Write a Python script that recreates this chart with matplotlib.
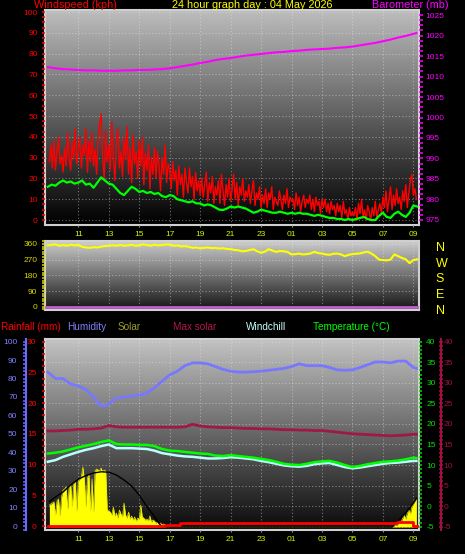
import numpy as np
import matplotlib
matplotlib.use('Agg')
import matplotlib.pyplot as plt
from matplotlib.ticker import MultipleLocator

plt.rcParams['font.family'] = ['Liberation Sans', 'DejaVu Sans']
plt.rcParams['axes.unicode_minus'] = False

W, H = 465, 554

# hours since 09:00 of the previous day
hour_ticks = [2, 4, 6, 8, 10, 12, 14, 16, 18, 20, 22, 24]
hour_labels = ['11', '13', '15', '17', '19', '21', '23', '01', '03', '05', '07', '09']

t_fine = np.round(np.arange(1, 243) * 0.1, 1)      # 0.1 .. 24.2
t_quarter = np.arange(98) * 0.25                   # 0 .. 24.25
t_half = list(np.arange(0, 24.5, 0.5)) + [24.2]

# windspeed gusts (kph), one row per hour
gust = [28, 36, 25, 38, 24, 33, 40, 27, 31, 23,
        35, 26, 42, 30, 24, 38, 29, 44, 27, 33,
        40, 25, 36, 31, 44, 23, 38, 28, 42, 26,
        34, 22, 39, 46, 51, 30, 20, 43, 28, 36,
        24, 47, 30, 19, 38, 44, 25, 33, 21, 40,
        29, 45, 22, 35, 18, 41, 27, 33, 20, 38,
        26, 40, 17, 32, 24, 36, 15, 30, 22, 35,
        20, 33, 26, 14, 30, 22, 36, 18, 27, 24,
        15, 28, 19, 24, 12, 26, 17, 22, 11, 25,
        18, 13, 25, 16, 21, 10, 23, 14, 19, 12,
        20, 11, 17, 23, 9, 18, 13, 21, 8, 16,
        12, 19, 8, 22, 14, 7, 17, 11, 20, 9,
        15, 22, 10, 18, 7, 16, 12, 20, 9, 14,
        11, 17, 8, 14, 19, 7, 13, 10, 16, 6,
        12, 8, 15, 6, 13, 10, 16, 5, 11, 9,
        7, 14, 10, 5, 12, 8, 15, 6, 11, 9,
        10, 5, 13, 7, 11, 4, 9, 12, 6, 10,
        8, 12, 5, 10, 4, 11, 7, 9, 3, 10,
        6, 10, 4, 8, 3, 9, 5, 7, 2, 8,
        4, 7, 1, 9, 3, 5, 0, 6, 2, 4,
        2, 6, 0, 8, 3, 10, 1, 5, 0, 7,
        4, 0, 6, 2, 9, 1, 5, 8, 3, 11,
        6, 14, 4, 10, 16, 5, 12, 7, 15, 8,
        11, 5, 14, 9, 17, 6, 13, 19, 22, 12,
        15, 10]

# average windspeed (kph), 4 per hour
wind_avg = [16, 17, 16.5, 18, 19, 18, 18.5, 17.5, 18, 19, 17, 17.5,
            15.5, 18, 20.5, 19, 17.5, 17, 15, 13, 12, 14, 16, 15,
            13.5, 14, 13, 13.5, 12.5, 13, 11.5, 11, 12, 11.5, 10, 9.5,
            9, 8.5, 9, 8, 8, 7, 7.5, 7, 6, 5, 4.8, 5.5,
            6.5, 6, 6.5, 6, 5.5, 4.5, 3.5, 4, 5, 4.5, 4, 3.5,
            3.5, 4, 3.5, 3, 3.5, 3, 3.5, 3, 3, 2.5, 2, 2.5,
            2, 1.5, 1, 1, 0.5, 0.5, 0, 0.5, 0, 0.5, 1, 1.5,
            0.5, 0, 0, 2, 3.5, 1.5, 1, 3, 4, 2.5, 1.5, 3.5,
            7, 6.5]

barometer = [1012.3, 1012.0, 1011.8, 1011.7, 1011.6, 1011.5, 1011.5, 1011.4, 1011.4, 1011.4,
             1011.5, 1011.5, 1011.6, 1011.6, 1011.7, 1011.8, 1012.0, 1012.3, 1012.6, 1012.9,
             1013.3, 1013.6, 1014.0, 1014.3, 1014.5, 1014.8, 1015.1, 1015.3, 1015.5, 1015.7,
             1015.9, 1016.0, 1016.2, 1016.3, 1016.5, 1016.6, 1016.7, 1016.8, 1017.0, 1017.1,
             1017.3, 1017.6, 1017.9, 1018.2, 1018.6, 1019.0, 1019.5, 1019.9, 1020.4, 1020.6]

# wind direction (degrees), 4 per hour
wind_dir = [352, 356, 358, 350, 354, 350, 356, 352, 354, 344, 340, 338,
            342, 340, 345, 348, 350, 352, 350, 354, 350, 352, 356, 350,
            352, 358, 354, 350, 356, 352, 354, 358, 356, 350, 352, 346,
            348, 344, 338, 340, 335, 338, 340, 336, 338, 334, 336, 332,
            330, 326, 324, 318, 320, 325, 330, 318, 310, 316, 330, 322,
            315, 320, 318, 314, 300, 302, 305, 300, 302, 306, 315, 308,
            305, 300, 298, 304, 305, 300, 290, 298, 302, 304, 306, 312,
            316, 305, 290, 270, 268, 266, 270, 300, 290, 280, 272, 250,
            268, 272]
dir_base = 0

humidity = [83.5, 80, 80, 77, 76, 74, 70, 65, 66, 69.5,
            70, 70.5, 71, 72, 75, 78.5, 82, 84, 87, 88.5,
            88.5, 88, 86.5, 85, 84, 83.5, 83.5, 83.7, 84, 84.5,
            85, 85.5, 86.5, 88, 87, 87, 87, 86, 84.7, 84.5,
            84.7, 86, 87.5, 89, 89, 88.5, 89.5, 89.5, 86, 85.5]

max_line = [18.3, 18.3, 18.4, 18.5, 18.7, 18.7, 18.8, 19.0, 19.6, 19.3,
            19.2, 19.2, 19.2, 19.2, 19.2, 19.2, 19.2, 19.2, 19.3, 19.9,
            19.5, 19.3, 19.2, 19.1, 19.1, 19.0, 18.9, 18.9, 18.8, 18.8,
            18.7, 18.6, 18.6, 18.5, 18.5, 18.4, 18.4, 18.2, 18.0, 17.8,
            17.6, 17.5, 17.4, 17.3, 17.2, 17.1, 17.2, 17.3, 17.5, 17.5]

temperature = [12.8, 13.0, 13.3, 13.8, 14.3, 14.7, 15.1, 15.6, 16.0, 15.1,
               15.0, 15.0, 14.9, 14.9, 14.6, 13.9, 13.5, 13.4, 13.2, 13.0,
               12.8, 12.7, 12.3, 12.2, 12.4, 12.2, 12.0, 11.8, 11.5, 11.2,
               10.8, 10.3, 10.1, 10.0, 10.3, 10.7, 10.9, 11.0, 10.6, 10.0,
               9.5, 9.8, 10.2, 10.5, 10.8, 10.9, 11.1, 11.4, 11.8, 11.7]

windchill = [10.8, 11.2, 12.0, 12.6, 13.2, 13.7, 14.1, 14.6, 15.0, 14.1,
             14.1, 14.1, 14.0, 13.9, 13.5, 12.9, 12.6, 12.3, 12.1, 12.0,
             11.8, 11.6, 11.6, 11.7, 11.9, 11.8, 11.6, 11.4, 11.0, 10.7,
             10.3, 9.9, 9.7, 9.6, 9.8, 10.2, 10.4, 10.5, 10.0, 9.5,
             9.2, 9.4, 9.7, 10.0, 10.3, 10.5, 10.6, 10.8, 11.0, 11.0]

# solar radiation (W/m2) on the 0.1 h grid
solar = ([220, 230, 240, 250, 120, 260, 280, 110, 300, 370,
          380, 400, 180, 410, 420, 200, 440, 450, 160, 460,
          480, 500, 600, 470, 200, 490, 520, 160, 480, 150,
          560, 580, 570, 560, 590, 550, 570, 560, 170, 160,
          150, 120, 200, 110, 140, 90, 170, 130, 100, 240,
          120, 90, 150, 80, 110, 70, 100, 60, 90, 80,
          220, 100, 90, 70, 80, 60, 110, 50, 70, 60,
          40, 50, 30, 40, 20, 30, 20, 10, 5, 0]
         + [0] * 145
         + [0, 10, 20, 15, 40, 60, 50, 90, 120, 80, 140, 170, 130, 200, 230, 260, 280])

t_maxsolar = [0.1, 0.5, 1.0, 1.5, 2.0, 2.5, 3.0, 3.5, 4.0, 4.5, 5.0, 5.5, 6.0, 6.5, 7.0, 7.2, 7.5,
              22.6, 23.0, 23.5, 24.0, 24.2]
max_solar = [253, 300, 350, 420, 478, 515, 540, 552, 548, 520, 470, 410, 320, 205, 105, 55, 0,
             0, 60, 140, 240, 287]

t_rain = [0, 7.7, 8.7, 22.9, 24.0, 24.25]
rain = [0, 0.2, 0.45, 0.7, 0, 0]

X0, X1 = -0.187, 24.37


def box(x0, y0, x1, y1):
    return [x0 / W, 1 - y1 / H, (x1 - x0) / W, (y1 - y0) / H]


fig = plt.figure(figsize=(W / 100, H / 100), dpi=100, facecolor='black')


def backdrop(rect, top, bottom):
    bg = fig.add_axes(rect, zorder=0)
    grad = np.linspace(top, bottom, 256).reshape(-1, 1)
    bg.imshow(grad, cmap='gray', vmin=0, vmax=1, aspect='auto', extent=[0, 1, 0, 1])
    bg.set_xticks([])
    bg.set_yticks([])
    for s in bg.spines.values():
        s.set_color('#d0d0d0')
        s.set_linewidth(1.5)
    return bg


def overlay(rect, z):
    a = fig.add_axes(rect, zorder=z)
    a.patch.set_visible(False)
    for s in a.spines.values():
        s.set_visible(False)
    a.set_xlim(X0, X1)
    return a


def hour_axis(a, labels=True):
    a.set_xticks(hour_ticks)
    a.set_xticklabels(hour_labels if labels else [])
    a.tick_params(axis='x', color='#909090', labelcolor='#d8f000', labelsize=6,
                  length=1.5, pad=3, labelbottom=labels)


grid_kw = dict(color='#e8e8e8', alpha=0.45, lw=0.8, ls=(0, (1, 2)))

top_r = box(45, 10, 419, 225)
mid_r = box(45, 241, 419, 310)
bot_r = box(45, 339, 419, 530)

backdrop(top_r, 0.74, 0.0)
backdrop(mid_r, 0.80, 0.08)
backdrop(bot_r, 0.76, 0.04)

# ---- windspeed / barometer
ax1 = overlay(top_r, 1)
ax1.plot(t_fine, gust, color='#ff0000', lw=1)
ax1.plot(t_quarter, wind_avg, color='#00ff00', lw=1.6)
ax1.set_ylim(-2.4, 101)
ax1.yaxis.set_major_locator(MultipleLocator(10))
ax1.yaxis.set_minor_locator(MultipleLocator(2.5))
ax1.tick_params(axis='y', which='both', colors='#ff0000', labelsize=6, length=2.2, width=1.1, pad=3)
hour_axis(ax1)
ax1.grid(True, **grid_kw)

ax1b = overlay(top_r, 2)
ax1b.plot(t_half, barometer, color='#ff00ff', lw=1.5)
ax1b.set_ylim(973.78, 1026.22)
ax1b.yaxis.tick_right()
ax1b.yaxis.set_major_locator(MultipleLocator(5))
ax1b.yaxis.set_minor_locator(MultipleLocator(1.25))
ax1b.tick_params(axis='y', which='both', colors='#ff00ff', labelsize=6, length=2.8, width=1.1, pad=2)
ax1b.set_xticks([])

# ---- wind direction
ax2 = overlay(mid_r, 1)
ax2.axhline(dir_base, color='#c060d0', lw=2)
ax2.plot(t_quarter, wind_dir, color='#ffff00', lw=1.5)
ax2.set_ylim(-18.9, 377.2)
ax2.set_yticks([0, 90, 180, 270, 360])
ax2.yaxis.set_minor_locator(MultipleLocator(15))
ax2.tick_params(axis='y', which='both', colors='#d8d800', labelsize=6, length=2.5, width=1.1, pad=3)
hour_axis(ax2, labels=False)
ax2.tick_params(axis='x', length=0)
ax2.grid(True, **grid_kw)

ax2b = overlay(mid_r, 2)
ax2b.set_ylim(-18.9 + 15, 377.2 + 15)
ax2b.yaxis.tick_right()
ax2b.set_yticks([0, 90, 180, 270, 360])
ax2b.set_yticklabels(['N', 'E', 'S', 'W', 'N'])
ax2b.tick_params(axis='y', colors='#ffff00', labelsize=9, length=0, pad=12)
ax2b.set_xticks([])

# ---- rain / humidity / solar / temperature
axt = overlay(bot_r, 1)
axt.plot(t_half, windchill, color='#b8ffff', lw=1.8)
axt.plot(t_half, temperature, color='#00ff00', lw=1.8)
axt.set_ylim(-5.8, 40.66)
axt.yaxis.tick_right()
axt.yaxis.set_major_locator(MultipleLocator(5))
axt.yaxis.set_minor_locator(MultipleLocator(1))
axt.tick_params(axis='y', which='both', colors='#00e000', labelsize=6, length=2.2, width=1.1, pad=3)
hour_axis(axt)
axt.grid(True, **grid_kw)

axs = overlay(bot_r, 2)
axs.fill_between(t_fine, solar, 0, color='#ffff00', lw=0)
axs.plot(t_fine, solar, color='#e8e800', lw=0.5)
axs.plot(t_maxsolar, max_solar, color='#000000', lw=1)
axs.set_ylim(-30, 1880)
axs.set_xticks([])
axs.set_yticks([])

axr = overlay(bot_r, 3)
axr.plot(t_rain, rain, color='#ff0000', lw=2, drawstyle='steps-post')
axr.set_ylim(-0.65, 30.44)
axr.yaxis.set_major_locator(MultipleLocator(5))
axr.yaxis.set_minor_locator(MultipleLocator(1))
axr.tick_params(axis='y', which='both', colors='#ff0000', labelsize=6, length=2.2, width=1.1, pad=3.9)
axr.set_xticks([])

axh = overlay(bot_r, 4)
axh.plot(t_half, humidity, color='#7878ff', lw=2)
axh.set_ylim(-2.17, 101.47)
axh.spines['left'].set_visible(True)
axh.spines['left'].set_position(('axes', -0.052))
axh.spines['left'].set_color('#6a6aff')
axh.spines['left'].set_linewidth(1.5)
axh.yaxis.set_major_locator(MultipleLocator(10))
axh.yaxis.set_minor_locator(MultipleLocator(2))
axh.tick_params(axis='y', which='both', colors='#6a6aff', labelcolor='#8080ff', labelsize=6,
                length=2.2, width=1.1, pad=3.6)
axh.set_xticks([])

axc = overlay(bot_r, 4)
axc.plot(t_half, max_line, color='#a01848', lw=2)
axc.set_ylim(-5.8, 40.66)
axc.yaxis.tick_right()
axc.spines['right'].set_visible(True)
axc.spines['right'].set_position(('axes', 1.0575))
axc.spines['right'].set_color('#a01040')
axc.spines['right'].set_linewidth(1.5)
axc.yaxis.set_major_locator(MultipleLocator(5))
axc.yaxis.set_minor_locator(MultipleLocator(1))
axc.tick_params(axis='y', which='both', colors='#a01040', labelsize=6, length=2.2, width=1.1,
                direction='inout', pad=1)
axc.set_xticks([])

# ---- texts
head_y = 1 - 5.5 / H
fig.text(34 / W, head_y, 'Windspeed (kph)', color='#ff0000', fontsize=7.8, va='center')
fig.text(172 / W, head_y, '24 hour graph day : 04 May 2026', color='#ffff00', fontsize=7.8, va='center')
fig.text(372 / W, head_y, 'Barometer (mb)', color='#ff00ff', fontsize=7.8, va='center')

legend_y = 1 - 327 / H
for x, txt, col in [(1, 'Rainfall (mm)', '#ff0000'), (67, 'Humidity', '#8080ff'),
                    (118, 'Solar', '#a0a030'), (173, 'Max solar', '#b01848'),
                    (246, 'Windchill', '#c8ffff'), (313, 'Temperature (°C)', '#00ff00')]:
    fig.text(x / W, legend_y, txt, color=col, fontsize=7.2, va='center')

fig.savefig('out.png', dpi=100, facecolor='black')
